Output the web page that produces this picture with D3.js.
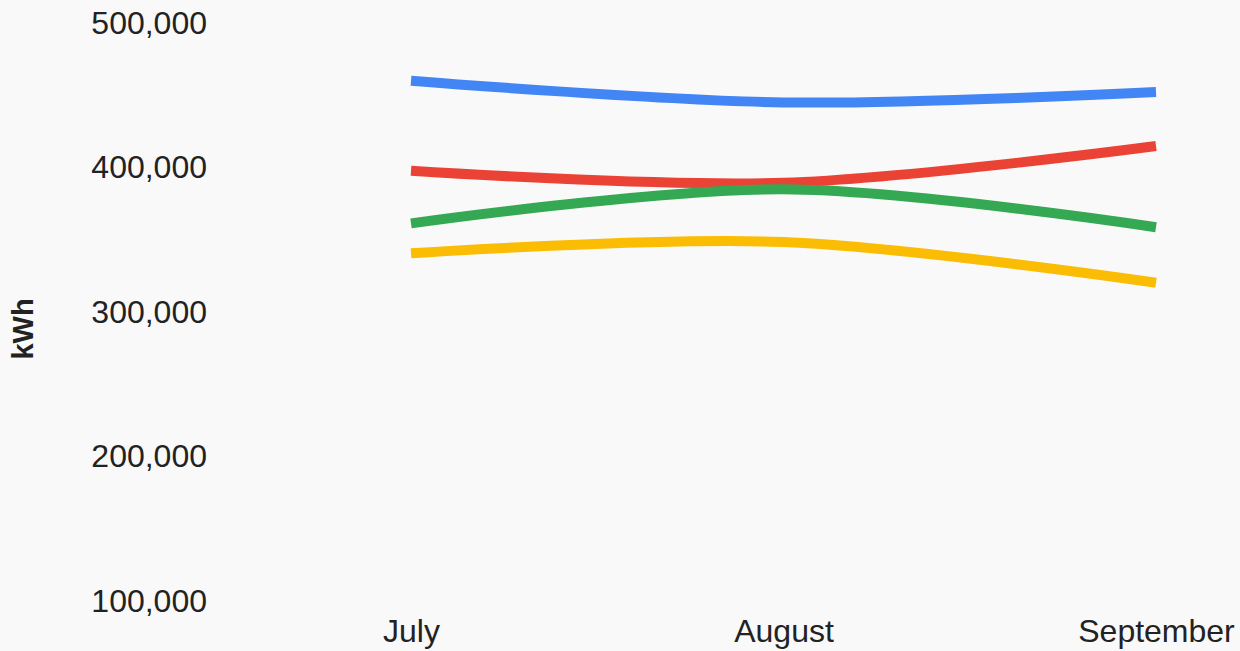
<!DOCTYPE html>
<html>
<head>
<meta charset="utf-8">
<script src="https://cdn.jsdelivr.net/npm/d3@7"></script>
<style>
  html, body { margin: 0; padding: 0; background: #f9f9f9; }
  svg { display: block; font-family: Arial, "Liberation Sans", sans-serif; }
</style>
</head>
<body>
<div class="chart"></div>
<script>
// data
var months = ["July", "August", "September"];
var yTicks = [100000, 200000, 300000, 400000, 500000];
var seriesBlue   = [459000, 444000, 451200];
var seriesRed    = [396700, 388400, 413800];
var seriesGreen  = [360300, 383900, 357600];
var seriesYellow = [339600, 347400, 319200];

var lineColors = ["#4285f4", "#ea4335", "#34a853", "#fbbc04"];
var allSeries = [seriesBlue, seriesRed, seriesGreen, seriesYellow];

var width = 1240,
    height = 651;

var svg = d3.select(".chart").append("svg")
    .attr("width", width)
    .attr("height", height);

svg.append("rect")
    .attr("width", width)
    .attr("height", height)
    .attr("fill", "#f9f9f9");

// scales
var xScale = d3.scalePoint().domain(months).range([411, 1156]),
    yScale = d3.scaleLinear().domain([100000, 500000]).range([599.5, 21.5]);

var fmt = d3.format(",");

// y axis (labels only)
var yAxis = d3.axisLeft(yScale)
    .tickValues(yTicks)
    .tickFormat(fmt)
    .tickSize(0)
    .tickPadding(0);

var yaxisg = svg.append("g")
    .attr("transform", "translate(207,0)")
    .call(yAxis);
yaxisg.select(".domain").remove();
yaxisg.selectAll("text")
    .attr("dy", "0.36em")
    .style("font-size", "32px")
    .style("fill", "#222");

// x axis (labels only)
var xAxis = d3.axisBottom(xScale).tickSize(0).tickPadding(0);
var xaxisg = svg.append("g")
    .attr("transform", "translate(0,642)")
    .call(xAxis);
xaxisg.select(".domain").remove();
xaxisg.selectAll("text")
    .attr("y", 0)
    .attr("dy", 0)
    .style("font-size", "32px")
    .style("fill", "#222");

// y axis title
svg.append("text")
    .attr("transform", "translate(33,329)rotate(-90)")
    .style("text-anchor", "middle")
    .style("font-size", "29px")
    .style("font-weight", "bold")
    .style("fill", "#222")
    .text("kWh");

// lines
var line = d3.line()
    .x(function(d, i) { return xScale(months[i]); })
    .y(function(d) { return yScale(d); })
    .curve(d3.curveCatmullRom.alpha(0.5));

svg.selectAll(".series")
    .data(allSeries)
  .enter().append("path")
    .attr("class", "series")
    .attr("d", line)
    .attr("fill", "none")
    .attr("stroke", function(d, i) { return lineColors[i]; })
    .attr("stroke-width", 10);
</script>
</body>
</html>
